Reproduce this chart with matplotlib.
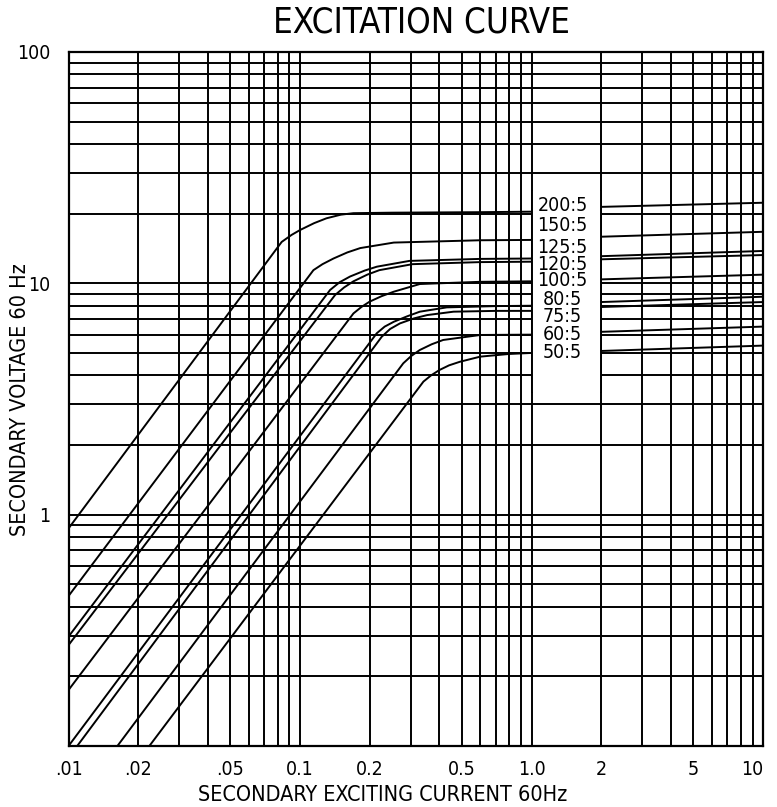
import matplotlib.pyplot as plt
from matplotlib.patches import Rectangle

plt.rcParams['font.family'] = ['DejaVu Sans']
plt.rcParams['font.stretch'] = 'condensed'

# excitation curves (secondary current A, secondary volts)
ratios = ["200:5", "150:5", "125:5", "120:5", "100:5", "80:5", "75:5", "60:5", "50:5"]

x_200 = [0.01, 0.0833, 0.092, 0.1, 0.115, 0.13, 0.15, 0.17, 0.25, 0.6, 1.0, 2.0, 10]
y_200 = [0.872, 15.1, 16.2, 17.0, 18.2, 19.1, 19.8, 20.1, 20.2, 20.3, 20.4, 21.4, 22.3]

x_150 = [0.01, 0.1142, 0.125, 0.1394, 0.16, 0.1819, 0.2539, 0.6, 1.0, 2.0, 10]
y_150 = [0.445, 11.4, 12.1, 12.8, 13.6, 14.2, 15.0, 15.35, 15.4, 15.9, 16.7]

x_125 = [0.01, 0.1348, 0.148, 0.1644, 0.19, 0.2146, 0.2967, 0.6, 1.0, 2.0, 10]
y_125 = [0.297, 9.36, 10.1, 10.7, 11.35, 11.8, 12.5, 12.75, 12.8, 13.1, 13.8]

x_120 = [0.01, 0.1416, 0.155, 0.17, 0.195, 0.22, 0.306, 0.6, 1.0, 2.0, 10]
y_120 = [0.273, 8.9, 9.6, 10.2, 10.9, 11.4, 12.1, 12.35, 12.4, 12.7, 13.25]

x_100 = [0.01, 0.170, 0.184, 0.1996, 0.225, 0.254, 0.329, 0.6, 1.0, 2.0, 10]
y_100 = [0.1746, 7.41, 7.9, 8.33, 8.8, 9.2, 9.93, 10.15, 10.2, 10.4, 10.9]

x_80 = [0.01, 0.2143, 0.232, 0.254, 0.29, 0.329, 0.43, 0.7, 1.0, 2.0, 10]
y_80 = [0.1, 6.08, 6.5, 6.82, 7.2, 7.54, 7.87, 7.97, 8.0, 8.3, 8.75]

x_75 = [0.0109, 0.2254, 0.245, 0.27, 0.31, 0.354, 0.46, 0.7, 1.0, 2.0, 10]
y_75 = [0.1, 5.88, 6.35, 6.71, 7.05, 7.29, 7.54, 7.6, 7.6, 7.9, 8.3]

x_60 = [0.01626, 0.279, 0.302, 0.329, 0.37, 0.415, 0.6, 1.0, 2.0, 10]
y_60 = [0.1, 4.51, 4.85, 5.15, 5.45, 5.69, 5.98, 6.0, 6.17, 6.5]

x_50 = [0.02234, 0.341, 0.368, 0.4, 0.44, 0.49, 0.6, 0.8, 1.0, 2.0, 10]
y_50 = [0.1, 3.76, 4.0, 4.22, 4.42, 4.58, 4.82, 4.95, 5.0, 5.1, 5.38]

curves_x = [x_200, x_150, x_125, x_120, x_100, x_80, x_75, x_60, x_50]
curves_y = [y_200, y_150, y_125, y_120, y_100, y_80, y_75, y_60, y_50]

x_ticks = [0.01, 0.02, 0.05, 0.1, 0.2, 0.5, 1.0, 2, 5, 10]
x_ticklabels = [".01", ".02", ".05", "0.1", "0.2", "0.5", "1.0", "2", "5", "10"]
y_ticks = [1, 10, 100]
y_ticklabels = ["1", "10", "100"]

# where the ratio labels sit inside the white box
label_x = 1.36
label_y = [21.8, 17.7, 14.3, 12.05, 10.26, 8.47, 7.17, 5.98, 5.03]

fig = plt.figure(figsize=(7.77, 8.07), dpi=100)
ax = fig.add_axes([0.0882, 0.0756, 0.8940, 0.8600])

for xs, ys in zip(curves_x, curves_y):
    ax.plot(xs, ys, color='black', lw=1.4, zorder=2)

ax.set_xscale('log')
ax.set_yscale('log')
ax.set_xlim(0.01, 10)
ax.set_ylim(0.1, 100)

ax.set_axisbelow(True)
ax.grid(which='both', color='black', lw=1.4)

# white label box between 1.0 and 2, grid lines at the edges stay on top
box_lo, box_hi = 3.4, 25
ax.add_patch(Rectangle((1.0, box_lo), 1.0, box_hi - box_lo, facecolor='white',
                       edgecolor='none', zorder=3))
for xv in [1.0, 2.0]:
    ax.plot([xv, xv], [box_lo, box_hi], color='black', lw=1.4, zorder=4)

for name, yv in zip(ratios, label_y):
    ax.text(label_x, yv, name, ha='center', va='center', fontsize=14, zorder=5)

ax.set_xticks(x_ticks)
ax.set_xticklabels(x_ticklabels)
ax.set_yticks(y_ticks)
ax.set_yticklabels(y_ticklabels)
ax.minorticks_on()
ax.tick_params(which='both', length=0)
ax.tick_params(axis='x', labelsize=14, pad=10)
ax.tick_params(axis='y', labelsize=14, pad=13)
ax.xaxis.set_minor_formatter(plt.NullFormatter())
ax.yaxis.set_minor_formatter(plt.NullFormatter())
ax.get_xticklabels()[-1].set_horizontalalignment('right')

for sp in ax.spines.values():
    sp.set_linewidth(1.6)

fig.text(0.542, 0.972, "EXCITATION CURVE", ha='center', va='center', fontsize=25)
fig.text(0.493, 0.015, "SECONDARY EXCITING CURRENT 60Hz", ha='center', va='center', fontsize=15.5)
fig.text(0.026, 0.505, "SECONDARY VOLTAGE 60 Hz", ha='center', va='center',
         rotation=90, fontsize=15.5)

fig.savefig("out.png", dpi=100)
